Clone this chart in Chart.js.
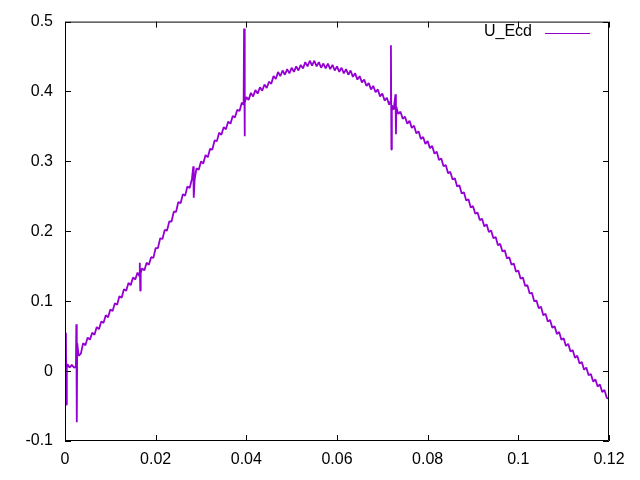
<!DOCTYPE html>
<html>
<head>
<meta charset="utf-8">
<script src="https://cdn.jsdelivr.net/npm/chart.js@4"></script>
<style>
html,body{margin:0;padding:0;background:#fff;}
canvas{display:block;}
</style>
</head>
<body>
<canvas id="c" width="640" height="480"></canvas>
<script>
const seriesName = "U_Ecd";
const xTicks = [0, 0.02, 0.04, 0.06, 0.08, 0.1, 0.12];
const xTickLabels = ["0", "0.02", "0.04", "0.06", "0.08", "0.1", "0.12"];
const yTicks = [-0.1, 0, 0.1, 0.2, 0.3, 0.4, 0.5];
const yTickLabels = ["-0.1", "0", "0.1", "0.2", "0.3", "0.4", "0.5"];

const xs = [
0.0000,0.0002,0.0003,0.0004,0.0005,0.0010,0.0015,0.0020,0.0024,0.0025,0.0026,0.0027,
0.0030,0.0035,0.0040,0.0045,0.0050,0.0055,0.0060,0.0065,0.0070,0.0075,0.0080,0.0085,
0.0090,0.0095,0.0100,0.0105,0.0110,0.0115,0.0120,0.0125,0.0130,0.0135,0.0140,0.0145,
0.0150,0.0155,0.0160,0.0164,0.0165,0.0166,0.0167,0.0170,0.0175,0.0180,0.0185,0.0190,
0.0195,0.0200,0.0205,0.0210,0.0215,0.0220,0.0225,0.0230,0.0235,0.0240,0.0245,0.0250,
0.0255,0.0260,0.0265,0.0270,0.0275,0.0280,0.0283,0.0284,0.0286,0.0290,0.0295,0.0300,
0.0305,0.0310,0.0315,0.0320,0.0325,0.0330,0.0335,0.0340,0.0345,0.0350,0.0355,0.0360,
0.0365,0.0370,0.0375,0.0380,0.0385,0.0390,0.0394,0.0395,0.0396,0.0397,0.0400,0.0405,
0.0410,0.0415,0.0420,0.0425,0.0430,0.0435,0.0440,0.0445,0.0450,0.0455,0.0460,0.0465,
0.0470,0.0475,0.0480,0.0485,0.0490,0.0495,0.0500,0.0505,0.0510,0.0515,0.0520,0.0525,
0.0530,0.0535,0.0540,0.0545,0.0550,0.0555,0.0560,0.0565,0.0570,0.0575,0.0580,0.0585,
0.0590,0.0595,0.0600,0.0605,0.0610,0.0615,0.0620,0.0625,0.0630,0.0635,0.0640,0.0645,
0.0650,0.0655,0.0660,0.0665,0.0670,0.0675,0.0680,0.0685,0.0690,0.0695,0.0700,0.0705,
0.0710,0.0715,0.0718,0.0719,0.0720,0.0721,0.0725,0.0729,0.0730,0.0731,0.0735,0.0740,
0.0745,0.0750,0.0755,0.0760,0.0765,0.0770,0.0775,0.0780,0.0785,0.0790,0.0795,0.0800,
0.0805,0.0810,0.0815,0.0820,0.0825,0.0830,0.0835,0.0840,0.0845,0.0850,0.0855,0.0860,
0.0865,0.0870,0.0875,0.0880,0.0885,0.0890,0.0895,0.0900,0.0905,0.0910,0.0915,0.0920,
0.0925,0.0930,0.0935,0.0940,0.0945,0.0950,0.0955,0.0960,0.0965,0.0970,0.0975,0.0980,
0.0985,0.0990,0.0995,0.1000,0.1005,0.1010,0.1015,0.1020,0.1025,0.1030,0.1035,0.1040,
0.1045,0.1050,0.1055,0.1060,0.1065,0.1070,0.1075,0.1080,0.1085,0.1090,0.1095,0.1100,
0.1105,0.1110,0.1115,0.1120,0.1125,0.1130,0.1135,0.1140,0.1145,0.1150,0.1155,0.1160,
0.1165,0.1170,0.1175,0.1180,0.1185,0.1190,0.1195,0.1200
];
const ys = [
0.005,0.055,-0.048,0.004,0.010,0.005,0.009,0.005,0.006,0.067,-0.073,0.040,
0.022,0.025,0.040,0.037,0.048,0.045,0.055,0.052,0.063,0.060,0.071,0.069,
0.080,0.077,0.088,0.086,0.097,0.095,0.107,0.105,0.117,0.115,0.126,0.123,
0.134,0.131,0.141,0.136,0.155,0.115,0.140,0.147,0.144,0.155,0.152,0.163,
0.162,0.176,0.176,0.190,0.189,0.202,0.201,0.214,0.214,0.228,0.228,0.242,
0.240,0.253,0.251,0.264,0.262,0.275,0.293,0.248,0.274,0.290,0.288,0.300,
0.297,0.309,0.306,0.318,0.317,0.330,0.329,0.341,0.338,0.349,0.346,0.357,
0.354,0.365,0.363,0.374,0.372,0.384,0.381,0.490,0.336,0.384,0.392,0.388,
0.398,0.393,0.402,0.397,0.406,0.401,0.410,0.405,0.414,0.411,0.422,0.418,
0.428,0.422,0.430,0.424,0.432,0.426,0.434,0.428,0.436,0.430,0.438,0.433,
0.442,0.436,0.444,0.437,0.444,0.436,0.442,0.434,0.440,0.433,0.440,0.432,
0.438,0.430,0.436,0.428,0.434,0.426,0.432,0.424,0.430,0.421,0.426,0.417,
0.422,0.413,0.417,0.408,0.412,0.403,0.408,0.399,0.403,0.393,0.397,0.387,
0.391,0.381,0.386,0.466,0.317,0.380,0.374,0.396,0.339,0.378,0.368,0.371,
0.361,0.364,0.354,0.358,0.348,0.351,0.340,0.343,0.332,0.335,0.325,0.329,
0.319,0.322,0.311,0.314,0.302,0.304,0.293,0.295,0.283,0.285,0.274,0.276,
0.264,0.266,0.254,0.256,0.244,0.246,0.234,0.236,0.225,0.227,0.216,0.218,
0.207,0.210,0.199,0.201,0.190,0.192,0.180,0.182,0.171,0.173,0.161,0.163,
0.152,0.154,0.142,0.144,0.132,0.134,0.122,0.123,0.111,0.112,0.100,0.101,
0.090,0.092,0.080,0.082,0.071,0.073,0.062,0.064,0.053,0.056,0.045,0.047,
0.036,0.039,0.028,0.030,0.019,0.022,0.011,0.013,0.002,0.005,-0.006,-0.004,
-0.015,-0.012,-0.022,-0.019,-0.030,-0.027,-0.038,-0.040
];

const FONT = '"Liberation Sans", Arial, sans-serif';
const LINE_COLOR = '#9400D3';

const framePlugin = {
  id: 'frame',
  afterDatasetsDraw(chart) {
    const {ctx, chartArea: a, scales: {x, y}} = chart;
    ctx.save();
    ctx.strokeStyle = '#000';
    ctx.lineWidth = 1;
    ctx.beginPath();
    ctx.rect(a.left + 0.5, a.top + 0.5, a.right - a.left - 1, a.bottom - a.top - 1);
    const tl = 6;
    xTicks.forEach(v => {
      const px = Math.round(x.getPixelForValue(v)) + 0.5;
      ctx.moveTo(px, a.bottom); ctx.lineTo(px, a.bottom - tl);
      ctx.moveTo(px, a.top); ctx.lineTo(px, a.top + tl);
    });
    yTicks.forEach(v => {
      const py = Math.round(y.getPixelForValue(v)) + 0.5;
      ctx.moveTo(a.left, py); ctx.lineTo(a.left + tl, py);
      ctx.moveTo(a.right, py); ctx.lineTo(a.right - tl, py);
    });
    ctx.stroke();
    // key
    ctx.font = '16px ' + FONT;
    ctx.fillStyle = '#000';
    ctx.textAlign = 'right';
    ctx.textBaseline = 'middle';
    ctx.fillText(seriesName, 532, 32);
    ctx.strokeStyle = LINE_COLOR;
    ctx.lineWidth = 1;
    ctx.beginPath();
    ctx.moveTo(545, 33.5); ctx.lineTo(590, 33.5);
    ctx.stroke();
    ctx.restore();
  }
};

new Chart(document.getElementById('c'), {
  type: 'line',
  data: {
    datasets: [{
      label: seriesName,
      data: xs.map((v, i) => ({x: v, y: ys[i]})),
      borderColor: LINE_COLOR,
      borderWidth: 1.8,
      borderJoinStyle: 'bevel',
      pointRadius: 0,
      tension: 0,
      fill: false
    }]
  },
  options: {
    responsive: false,
    animation: false,
    layout: {padding: {left: 0, right: 31, top: 19, bottom: 0}},
    plugins: {legend: {display: false}, tooltip: {enabled: false}},
    scales: {
      x: {
        type: 'linear', min: 0, max: 0.12,
        afterBuildTicks: s => { s.ticks = xTicks.map(v => ({value: v})); },
        afterFit: s => { s.height = 39; },
        grid: {display: false, drawTicks: false},
        border: {display: false},
        ticks: {
          callback: (v, i) => xTickLabels[i],
          font: {family: FONT, size: 16}, color: '#000', padding: 9, maxRotation: 0
        }
      },
      y: {
        type: 'linear', min: -0.1, max: 0.5,
        afterBuildTicks: s => { s.ticks = yTicks.map(v => ({value: v})); },
        afterFit: s => { s.width = 65; },
        grid: {display: false, drawTicks: false},
        border: {display: false},
        ticks: {
          callback: (v, i) => yTickLabels[i],
          font: {family: FONT, size: 16}, color: '#000', padding: 12
        }
      }
    }
  },
  plugins: [framePlugin]
});
</script>
</body>
</html>
